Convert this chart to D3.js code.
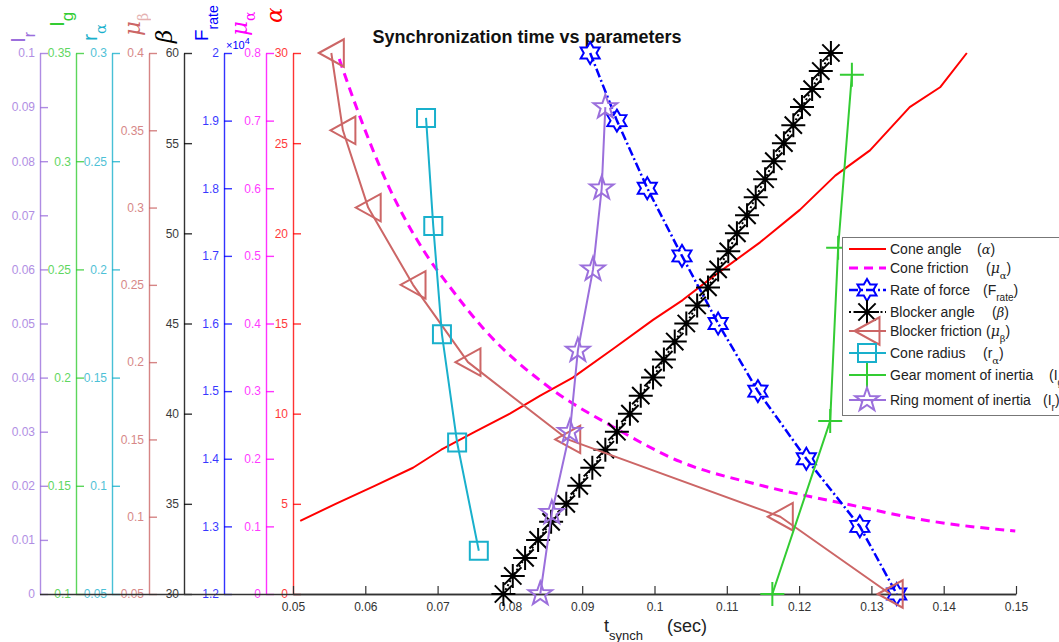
<!DOCTYPE html>
<html><head><meta charset="utf-8">
<script src="https://cdn.jsdelivr.net/npm/d3@7"></script>
<style>
body{margin:0;background:#fff}
svg{display:block}
text{font-family:"Liberation Sans",Arial,Helvetica,sans-serif}
</style>
</head><body>
<svg id="c" width="1059" height="642"></svg>
<script>
// ---------------- DATA ----------------
const xDomain = [0.05, 0.15];
const xTicks = [0.05,0.06,0.07,0.08,0.09,0.1,0.11,0.12,0.13,0.14,0.15];

// side axes: domains and ticks
const IrDomain = [0, 0.1];      const IrTicks = [0,0.01,0.02,0.03,0.04,0.05,0.06,0.07,0.08,0.09,0.1];
const IgDomain = [0.1, 0.35];   const IgTicks = [0.1,0.15,0.2,0.25,0.3,0.35];
const raDomain = [0.05, 0.3];   const raTicks = [0.05,0.1,0.15,0.2,0.25,0.3];
const mubDomain = [0.05, 0.4];  const mubTicks = [0.05,0.1,0.15,0.2,0.25,0.3,0.35,0.4];
const betaDomain = [30, 60];    const betaTicks = [30,35,40,45,50,55,60];
const FDomain = [12000, 20000]; const FTicks = [12000,13000,14000,15000,16000,17000,18000,19000,20000];
const muaDomain = [0, 0.8];     const muaTicks = [0,0.1,0.2,0.3,0.4,0.5,0.6,0.7,0.8];
const alphaDomain = [0, 30];    const alphaTicks = [0,5,10,15,20,25,30];

// series (t_synch, parameter value)
const coneAngleT = [0.0510,0.0559,0.0613,0.0666,0.0705,0.0752,0.0800,0.0842,0.0887,0.0943,0.0998,0.1039,0.1081,0.1146,0.1201,0.1250,0.1298,0.1353,0.1395,0.1432];
const coneAngleV = [4.05,5,6,7,8,9,10,11,12,13.6,15.2,16.3,17.6,19.5,21.3,23.2,24.6,27.0,28.1,30];

const coneFrictionT = [0.0564,0.0589,0.0630,0.0680,0.0717,0.0763,0.0855,0.0943,0.1035,0.1146,0.1270,0.1381,0.1499];
const coneFrictionV = [0.791,0.716,0.608,0.509,0.454,0.393,0.305,0.247,0.196,0.161,0.132,0.108,0.093];

const rateT = [0.0911,0.0948,0.0990,0.1038,0.1088,0.1143,0.1210,0.1284,0.1335];
const rateV = [20000,19000,18000,17000,16000,15000,14000,13000,12000];

const betaT = [0.0791,0.0804,0.0821,0.0839,0.0857,0.0878,0.0896,0.0914,0.0932,0.0948,0.0966,0.0981,0.0998,0.1013,0.1028,0.1044,0.1059,0.1074,0.1088,0.1102,0.1114,0.1128,0.1140,0.1153,0.1165,0.1179,0.1192,0.1204,0.1218,0.1230,0.1244];
const betaV = [30,31,32,33,34,35,36,37,38,39,40,41,42,43,44,45,46,47,48,49,50,51,52,53,54,55,56,57,58,59,60];

const mubT = [0.0553,0.0569,0.0604,0.0666,0.0742,0.0880,0.1174,0.1326];
const mubV = [0.40,0.35,0.30,0.25,0.20,0.15,0.10,0.05];

const raT = [0.0684,0.0694,0.0706,0.0727,0.0757];
const raV = [0.27,0.22,0.17,0.12,0.07];

const igT = [0.1163,0.1243,0.1254,0.1273];
const igV = [0.10,0.18,0.26,0.34];

const irT = [0.0842,0.0858,0.0883,0.0894,0.0915,0.0927,0.0932];
const irV = [0,0.015,0.03,0.045,0.06,0.075,0.09];

// ---------------- CHART ----------------
const svg = d3.select("#c");
const X0 = 293, X1 = 1016, YT = 53, YB = 594;
const x = d3.scaleLinear().domain(xDomain).range([X0, X1]);
const fmt = d => String(+(+d).toFixed(3));

const C = {
  Ir:"#9b6fdc", Ig:"#33cc33", ra:"#19b0cc", mub:"#cc6666",
  beta:"#000000", F:"#0000ff", mua:"#ff00ff", alpha:"#ff0000"
};

const axes = [
  {id:"Ir", pos:40, dom:IrDomain, ticks:IrTicks, color:C.Ir, tf:fmt,
   lab:{x:25,y:43,main:"I",sub:"r",ms:21,ss:16,dy:10,it:false}},
  {id:"Ig", pos:76, dom:IgDomain, ticks:IgTicks, color:C.Ig, tf:fmt,
   lab:{x:64,y:27,main:"I",sub:"g",ms:21,ss:17,dy:9,it:false}},
  {id:"ra", pos:112, dom:raDomain, ticks:raTicks, color:C.ra, tf:fmt,
   lab:{x:97,y:41,main:"r",sub:"α",ms:21,ss:15,dy:9,it:false}},
  {id:"mub", pos:149, dom:mubDomain, ticks:mubTicks, color:C.mub, tf:fmt,
   lab:{x:140,y:36,main:"μ",sub:"β",ms:23,ss:14,dy:8,it:true}},
  {id:"beta", pos:184, dom:betaDomain, ticks:betaTicks, color:C.beta, tf:fmt,
   lab:{x:172,y:43,main:"β",sub:"",ms:23,ss:14,dy:8,it:true}},
  {id:"F", pos:224, dom:FDomain, ticks:FTicks, color:C.F, tf:d=>fmt(d/1e4),
   lab:{x:208,y:41,main:"F",sub:"rate",ms:19,ss:14,dy:10,it:false}},
  {id:"mua", pos:266, dom:muaDomain, ticks:muaTicks, color:C.mua, tf:fmt,
   lab:{x:247,y:36,main:"μ",sub:"α",ms:23,ss:14,dy:8,it:true}},
  {id:"alpha", pos:293, dom:alphaDomain, ticks:alphaTicks, color:C.alpha, tf:fmt,
   lab:{x:282,y:23,main:"α",sub:"",ms:23,ss:14,dy:8,it:true}}
];
const Y = {};
axes.forEach(a => {
  a.scale = d3.scaleLinear().domain(a.dom).range([YB, YT]);
  Y[a.id] = a.scale;
  const g = svg.append("g").attr("transform", `translate(${a.pos},0)`)
    .call(d3.axisLeft(a.scale).tickValues(a.ticks).tickFormat(a.tf)
      .tickSizeInner(-8).tickSizeOuter(0).tickPadding(5));
  g.select(".domain").attr("stroke", a.color).attr("stroke-width", 1.4).attr("opacity",0.8);
  g.selectAll(".tick line").attr("stroke", a.color).attr("stroke-width", 1.4).attr("opacity",0.8);
  g.selectAll(".tick text").attr("fill", a.color).attr("opacity",0.78)
    .style("font-size","12px").style("font-family","'Liberation Sans',Arial,sans-serif");
  // rotated label
  const L = a.lab;
  const t = svg.append("text")
    .attr("transform", `translate(${L.x},${L.y}) rotate(-90)`)
    .attr("fill", a.color);
  t.append("tspan").text(L.main).style("font-size", L.ms+"px")
    .style("font-style", L.it ? "italic" : "normal")
    .style("font-family", L.it ? "'DejaVu Serif','Liberation Serif',serif" : "'Liberation Sans',Arial,sans-serif");
  if (L.sub) t.append("tspan").text(L.sub).attr("dy", L.dy).style("font-size", L.ss+"px")
    .style("font-family", (L.sub==="α"||L.sub==="β") ? "'DejaVu Serif',serif" : "'Liberation Sans',Arial,sans-serif")
    .attr("opacity", a.id==="mub" ? 0.5 : 1);
});

// x10^4 multiplier
const mult = svg.append("text").attr("x", 226).attr("y", 49).attr("fill", C.F)
  .style("font-size","11px");
mult.append("tspan").text("×10");
mult.append("tspan").text("4").attr("dy", -5).style("font-size","9px");

// bottom baseline across all axes
svg.append("line").attr("x1", 40).attr("x2", X1).attr("y1", YB+0.5).attr("y2", YB+0.5)
  .attr("stroke", "#333").attr("stroke-width", 1.3);

// main x axis
const gx = svg.append("g").attr("transform", `translate(0,${YB})`)
  .call(d3.axisBottom(x).tickValues(xTicks).tickFormat(fmt).tickSizeInner(-8).tickSizeOuter(0).tickPadding(8));
gx.select(".domain").attr("stroke", "#333").attr("stroke-width", 1.3);
gx.selectAll(".tick line").attr("stroke", "#333").attr("stroke-width", 1.2);
gx.selectAll(".tick text").attr("fill", "#333").style("font-size","12px")
  .style("font-family","'Liberation Sans',Arial,sans-serif");

// x label
const xl = svg.append("text").attr("x", 604).attr("y", 632).attr("fill", "#222").style("font-size","18px");
xl.append("tspan").text("t");
xl.append("tspan").text("synch").attr("dy", 8).style("font-size","13px");
xl.append("tspan").text("(sec)").attr("x", 667).attr("dy", -8);

// title
svg.append("text").attr("x", 527).attr("y", 43).attr("text-anchor", "middle")
  .style("font-size","18px").style("font-weight","bold").attr("fill","#111")
  .text("Synchronization time vs parameters");

// ---------- marker symbol types ----------
const hexagram = {draw(ctx, size){ const r=Math.sqrt(size), ri=r*0.58;
  for(let i=0;i<12;i++){ const a=-Math.PI/2+i*Math.PI/6, rr=i%2?ri:r;
    i?ctx.lineTo(rr*Math.cos(a),rr*Math.sin(a)):ctx.moveTo(rr*Math.cos(a),rr*Math.sin(a)); }
  ctx.closePath(); }};
const pentagram = {draw(ctx, size){ const r=Math.sqrt(size), ri=r*0.40;
  for(let i=0;i<10;i++){ const a=-Math.PI/2+i*Math.PI/5, rr=i%2?ri:r;
    i?ctx.lineTo(rr*Math.cos(a),rr*Math.sin(a)):ctx.moveTo(rr*Math.cos(a),rr*Math.sin(a)); }
  ctx.closePath(); }};
const triLeft = {draw(ctx, size){ const r=Math.sqrt(size);
  ctx.moveTo(-r,0); ctx.lineTo(r,-1.1*r); ctx.lineTo(r,1.1*r); ctx.closePath(); }};
const square = {draw(ctx, size){ const r=Math.sqrt(size); ctx.rect(-r,-r,2*r,2*r); }};
const plus = {draw(ctx, size){ const r=Math.sqrt(size);
  ctx.moveTo(-r,0); ctx.lineTo(r,0); ctx.moveTo(0,-r); ctx.lineTo(0,r); }};
const asterisk = {draw(ctx, size){ const r=Math.sqrt(size), d=r*0.72;
  ctx.moveTo(-r,0); ctx.lineTo(r,0); ctx.moveTo(0,-r); ctx.lineTo(0,r);
  ctx.moveTo(-d,-d); ctx.lineTo(d,d); ctx.moveTo(-d,d); ctx.lineTo(d,-d); }};

const series = [
  {name:"Cone angle", sym:"(α)", symX:977, t:coneAngleT, v:coneAngleV, ax:"alpha", color:C.alpha, w:2, dash:null, m:null, curve:d3.curveLinear},
  {name:"Cone friction", sym:["(","μ","α",")"], symX:986, t:coneFrictionT, v:coneFrictionV, ax:"mua", color:C.mua, w:3, dash:"9,6", m:null, curve:d3.curveMonotoneX},
  {name:"Rate of force", sym:["(","F","rate",")"], symX:983, t:rateT, v:rateV, ax:"F", color:C.F, w:2.5, dash:"9,3,2,3", m:hexagram, ms:11},
  {name:"Blocker angle", sym:"(β)", symX:992, t:betaT, v:betaV, ax:"beta", color:C.beta, w:2, dash:"2,2.5", m:asterisk, ms:12},
  {name:"Blocker friction", sym:["(","μ","β",")"], symX:986, t:mubT, v:mubV, ax:"mub", color:C.mub, w:2, dash:null, m:triLeft, ms:12.5},
  {name:"Cone radius", sym:["(","r","α",")"], symX:983, t:raT, v:raV, ax:"ra", color:C.ra, w:2, dash:null, m:square, ms:9},
  {name:"Gear moment of inertia", sym:["(","I","g",")"], symX:1049, t:igT, v:igV, ax:"Ig", color:C.Ig, w:2, dash:null, m:plus, ms:12},
  {name:"Ring moment of inertia", sym:["(","I","r",")"], symX:1043, t:irT, v:irV, ax:"Ir", color:C.Ir, w:2, dash:null, m:pentagram, ms:12.5}
];

const plot = svg.append("g");
series.forEach(s => {
  const pts = s.t.map((t,i) => [x(t), Y[s.ax](s.v[i])]);
  plot.append("path").attr("d", d3.line().curve(s.curve || d3.curveLinear)(pts)).attr("fill","none")
    .attr("stroke", s.color).attr("stroke-width", s.w)
    .attr("stroke-dasharray", s.dash).attr("stroke-linejoin","round");
  if (s.m) {
    const sym = d3.symbol().type(s.m).size(s.ms*s.ms);
    plot.append("g").selectAll("path").data(pts).join("path")
      .attr("transform", d => `translate(${d[0]},${d[1]})`)
      .attr("d", sym).attr("fill","none").attr("stroke", s.color).attr("stroke-width", 2);
  }
});

// ---------- legend ----------
const legY = [249, 268, 290, 312, 331, 353, 375, 400];
const lg = svg.append("g");
lg.append("rect").attr("x", 842.5).attr("y", 237.5).attr("width", 240).attr("height", 178)
  .attr("fill","#fff").attr("stroke","#777").attr("stroke-width",1);
series.forEach((s,i) => {
  const y = legY[i];
  lg.append("line").attr("x1", 849).attr("x2", 886).attr("y1", y).attr("y2", y)
    .attr("stroke", s.color).attr("stroke-width", s.w).attr("stroke-dasharray", s.dash);
  if (s.m) lg.append("path").attr("transform", `translate(867,${y})`)
    .attr("d", d3.symbol().type(s.m).size(s.ms*s.ms)).attr("fill","none")
    .attr("stroke", s.color).attr("stroke-width", 2);
  lg.append("text").attr("x", 890).attr("y", y+5).style("font-size","14px").attr("fill","#222").text(s.name);
  const st = lg.append("text").attr("x", s.symX).attr("y", y+5).style("font-size","14px").attr("fill","#222");
  if (typeof s.sym === "string") {
    st.append("tspan").text("(");
    st.append("tspan").text(s.sym[1]).style("font-style","italic").style("font-family","'DejaVu Serif',serif").style("font-size","13px");
    st.append("tspan").text(")");
  } else {
    st.append("tspan").text("(");
    const greek = s.sym[1]==="μ";
    st.append("tspan").text(s.sym[1]).style("font-style", greek?"italic":"normal")
      .style("font-family", greek?"'DejaVu Serif',serif":null);
    st.append("tspan").text(s.sym[2]).attr("dy", 6).style("font-size","10px")
      .style("font-family", (s.sym[2]==="α"||s.sym[2]==="β")?"'DejaVu Serif',serif":null);
    st.append("tspan").text(")").attr("dy", -6);
  }
});
</script>
</body></html>
